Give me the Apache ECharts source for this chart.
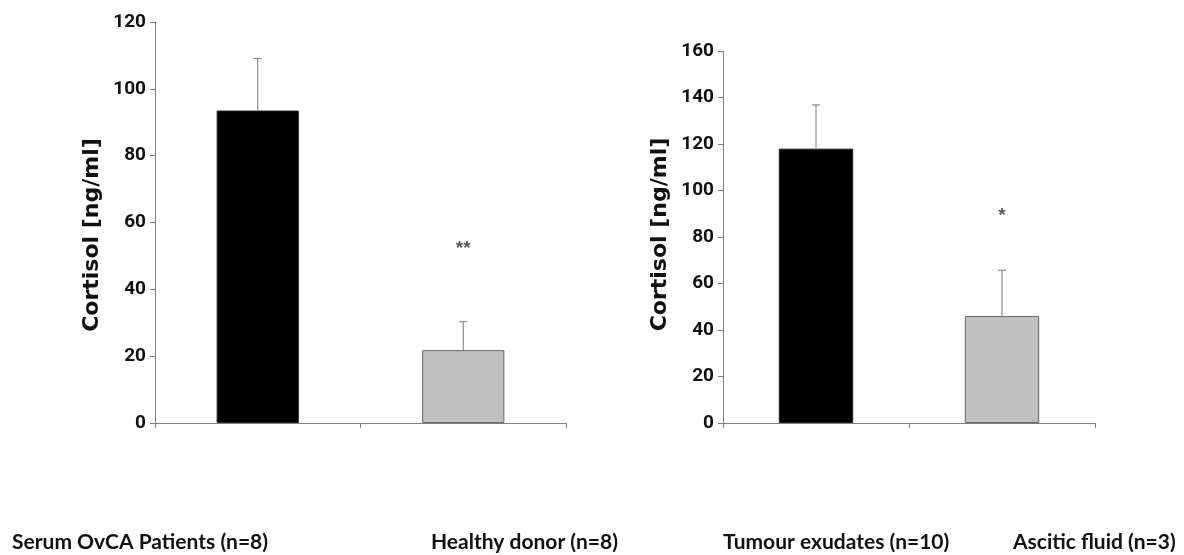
<!DOCTYPE html>
<html>
<head>
<meta charset="utf-8">
<script src="https://cdn.jsdelivr.net/npm/echarts@6/dist/echarts.min.js"></script>
<style>
  html, body { margin: 0; padding: 0; background: #fff; }
  #main { width: 1184px; height: 555px; }
</style>
</head>
<body>
<div id="main"></div>
<script>
// left panel: serum
const leftCats = ['Serum OvCA Patients (n=8)', 'Healthy donor (n=8)'];
const leftMeans = [93.5, 21.8];
const leftSd = [15.6, 8.5];
const leftSig = ['', '**'];
const leftSigAt = [null, 52];
const leftTicks = [0, 120, 20]; // min, max, step

// right panel: exudates
const rightCats = ['Tumour exudates (n=10)', 'Ascitic fluid (n=3)'];
const rightMeans = [118.0, 46.0];
const rightSd = [18.8, 19.7];
const rightSig = ['', '*'];
const rightSigAt = [null, 89];
const rightTicks = [0, 160, 20];

const barColors = ['#000000', '#c0c0c0'];
const yName = 'Cortisol [ng/ml]';

var chartDom = document.getElementById('main');
var myChart = echarts.init(chartDom);
var option;

const narrow = "'Liberation Sans Narrow', 'Arial Narrow', 'Roboto', sans-serif";
const axisGray = '#808080';

function xAxisFor(idx, cats) {
    return {
        type: 'category',
        gridIndex: idx,
        data: cats,
        boundaryGap: true,
        axisLine: { lineStyle: { color: axisGray, width: 1 } },
        axisTick: { show: true, length: 5, lineStyle: { color: axisGray } },
        axisLabel: { show: false }
    };
}

function yAxisFor(idx, ticks, namePad) {
    return {
        type: 'value',
        gridIndex: idx,
        min: ticks[0],
        max: ticks[1],
        interval: ticks[2],
        name: yName,
        nameLocation: 'middle',
        nameGap: 52,
        nameTextStyle: {
            fontFamily: "'DejaVu Sans', sans-serif",
            fontWeight: 'bold',
            fontSize: 22,
            color: '#111',
            padding: namePad
        },
        splitLine: { show: false },
        axisLine: { show: true, lineStyle: { color: axisGray, width: 1 } },
        axisTick: { show: true, length: 5, lineStyle: { color: axisGray } },
        axisLabel: {
            fontFamily: narrow,
            fontWeight: 'bold',
            fontSize: 19,
            color: '#111',
            margin: 9
        }
    };
}

function barSeries(idx, means) {
    return {
        type: 'bar',
        xAxisIndex: idx,
        yAxisIndex: idx,
        barWidth: '40%',
        data: means.map((v, i) => ({
            value: v,
            itemStyle: {
                color: barColors[i],
                borderColor: i === 0 ? '#222' : '#666',
                borderWidth: 1
            }
        })),
        silent: true
    };
}

function errSeries(idx, means, sd) {
    return {
        type: 'custom',
        xAxisIndex: idx,
        yAxisIndex: idx,
        silent: true,
        z: 5,
        data: means.map((v, i) => [i, v, v + sd[i]]),
        renderItem: function (params, api) {
            const p0 = api.coord([api.value(0), api.value(1)]);
            const p1 = api.coord([api.value(0), api.value(2)]);
            const st = { stroke: '#777', lineWidth: 1 };
            return {
                type: 'group',
                children: [
                    { type: 'line', shape: { x1: p0[0], y1: p0[1], x2: p1[0], y2: p1[1] }, style: st },
                    { type: 'line', shape: { x1: p1[0] - 4, y1: p1[1], x2: p1[0] + 4, y2: p1[1] }, style: st }
                ]
            };
        }
    };
}

function sigSeries(idx, sig, at) {
    const pts = [];
    sig.forEach((s, i) => { if (s) pts.push({ value: [i, at[i]], name: s }); });
    return {
        type: 'scatter',
        xAxisIndex: idx,
        yAxisIndex: idx,
        symbolSize: 0,
        silent: true,
        data: pts,
        label: {
            show: true,
            position: 'inside',
            formatter: p => p.name,
            fontSize: 19,
            fontWeight: 'bold',
            color: '#333',
            fontFamily: "'Liberation Sans', Arial, sans-serif"
        }
    };
}

function bottomLabel(text, x) {
    return {
        type: 'text',
        left: x,
        top: 532,
        style: {
            text: text,
            fontFamily: "'Lato', sans-serif",
            fontWeight: 'bold',
            fontSize: 21,
            fill: '#111'
        }
    };
}

option = {
    animation: false,
    backgroundColor: '#fff',
    grid: [
        { left: 155, top: 22, width: 411, height: 401 },
        { left: 723, top: 51, width: 372, height: 372 }
    ],
    xAxis: [xAxisFor(0, leftCats), xAxisFor(1, rightCats)],
    yAxis: [yAxisFor(0, leftTicks, [0, 25, 0, 0]), yAxisFor(1, rightTicks, [0, 0, 0, 5])],
    series: [
        barSeries(0, leftMeans),
        errSeries(0, leftMeans, leftSd),
        sigSeries(0, leftSig, leftSigAt),
        barSeries(1, rightMeans),
        errSeries(1, rightMeans, rightSd),
        sigSeries(1, rightSig, rightSigAt)
    ],
    graphic: [
        bottomLabel(leftCats[0], 12),
        bottomLabel(leftCats[1], 431),
        bottomLabel(rightCats[0], 723),
        bottomLabel(rightCats[1], 1013)
    ]
};

option && myChart.setOption(option);
</script>
</body>
</html>
